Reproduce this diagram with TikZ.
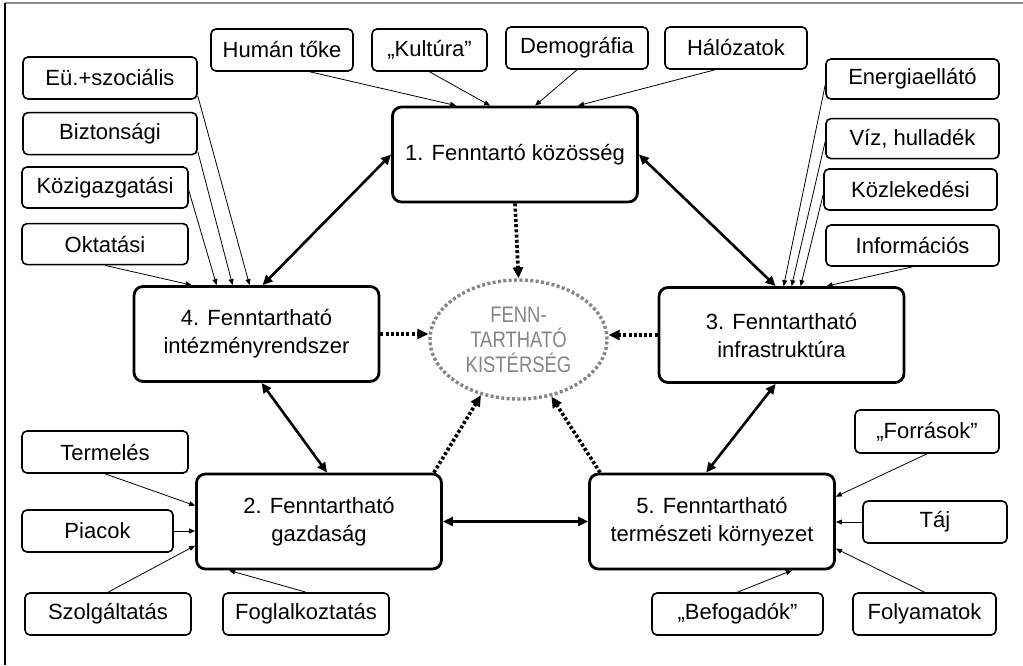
\documentclass[tikz,border=0pt]{standalone}
\usepackage{fontspec}
\setmainfont{Liberation Sans}
\newfontfamily\narrowfont[FakeStretch=0.82]{Liberation Sans}
\usepackage{xcolor}
\usetikzlibrary{arrows.meta,positioning,shapes.geometric}
\definecolor{frameline}{HTML}{8C8C8C}
\definecolor{goalgray}{HTML}{858585}
\tikzset{
  sbox/.style={draw,line width=1.6pt,rounded corners=5pt,align=center,
               font=\fontsize{22}{26}\selectfont,inner sep=0pt,minimum height=42pt},
  mbox/.style={draw,line width=2.8pt,rounded corners=9pt,align=center,
               font=\fontsize{22}{28}\selectfont,inner sep=0pt,minimum width=245pt,minimum height=95pt},
  goal/.style={ellipse,draw=goalgray,line width=3.4pt,dash pattern=on 3pt off 2.4pt,
               text=goalgray,align=center,font=\narrowfont\fontsize{22.5}{25}\selectfont,
               inner sep=0pt,minimum width=177pt,minimum height=119pt},
  arr/.style={-{Triangle[length=6pt,width=5pt]},line width=0.8pt},
  darr/.style={{Triangle[length=10pt,width=9pt]}-{Triangle[length=10pt,width=9pt]},line width=2.6pt},
  dotarr/.style={-{Triangle[length=11pt,width=10pt]},line width=3.6pt,dash pattern=on 3pt off 2.2pt},
}
\begin{document}
\begin{tikzpicture}[x=1pt,y=-1pt,node distance=12pt]
\useasboundingbox (0,0) rectangle (1023,665);
% frame of the scan
\draw[frameline,line width=1.2pt] (5,3) -- (1023,3);
\draw[line width=1.2pt] (5,3) -- (5,665);

% main blocks
\node[mbox] (k1) at (515,154.5) {\raisebox{3pt}{1. Fenntartó közösség}};
\node[mbox] (k4) at (256.5,334) {4. Fenntartható\\intézményrendszer};
\node[mbox] (k3) at (781.5,335) {3. Fenntartható\\infrastruktúra};
\node[mbox] (k2) at (319,521.5) {2. Fenntartható\\gazdaság};
\node[mbox] (k5) at (712,521.5) {5. Fenntartható\\természeti környezet};
\node[goal] (kist) at (518.5,339.5) {FENN-\\TARTHATÓ\\KISTÉRSÉG};

% factors of the community
\node[sbox,minimum width=142pt] (human) at (282,50) {Humán tőke};
\node[sbox,minimum width=115pt] (kultura) at (429.5,50) {„Kultúra”};
\node[sbox,minimum width=142pt] (demog) at (577,48) {Demográfia};
\node[sbox,minimum width=142pt] (halo) at (736,48) {Hálózatok};

% institutions
\node[sbox,minimum width=174pt] (eu) at (110,78) {Eü.+szociális};
\node[sbox,minimum width=174pt,below=of eu] (bizt) {Biztonsági};
\node[sbox,minimum width=166pt,minimum height=41pt] (kozig) at (105,187.5) {Közigazgatási};
\node[sbox,minimum width=166pt,minimum height=41pt,below=14pt of kozig] (okt) {Oktatási};

% infrastructure
\node[sbox,minimum width=173pt,minimum height=40pt] (energ) at (912.5,79) {Energiaellátó};
\node[sbox,minimum width=173pt,minimum height=40pt,below=18pt of energ] (viz) {Víz, hulladék};
\node[sbox,minimum width=173pt,minimum height=41pt] (kozl) at (910.5,189.5) {Közlekedési};
\node[sbox,minimum width=173pt,minimum height=41pt] (info) at (912.5,245.5) {Információs};

% economy
\node[sbox,minimum width=166pt] (termeles) at (105,452) {Termelés};
\node[sbox,minimum width=151pt] (piacok) at (97.5,531) {Piacok};
\node[sbox,minimum width=166pt] (szolg) at (108,614) {Szolgáltatás};
\node[sbox,minimum width=166pt] (fogl) at (306,614) {Foglalkoztatás};

% natural environment
\node[sbox,minimum width=144pt,minimum height=43pt] (forr) at (927,431.5) {„Források”};
\node[sbox,minimum width=144pt] (taj) at (935,522) {Táj};
\node[sbox,minimum width=171pt] (befog) at (737.5,614) {„Befogadók”};
\node[sbox,minimum width=143pt] (folyam) at (924.5,614) {Folyamatok};

% thin inputs
\draw[arr] ([xshift=28pt]human.south) -- ([xshift=65pt]k1.north west);
\draw[arr] (kultura.south) -- ([xshift=99pt]k1.north west);
\draw[arr] (demog.south) -- ([xshift=144pt]k1.north west);
\draw[arr] ([xshift=-21pt]halo.south) -- ([xshift=187pt]k1.north west);

\draw[arr] ([yshift=-18pt]eu.east) -- ([xshift=117pt]k4.north west);
\draw[arr] ([yshift=-18pt]bizt.east) -- ([xshift=100pt]k4.north west);
\draw[arr] ([yshift=-3pt]kozig.east) -- ([xshift=84pt]k4.north west);
\draw[arr] (okt.south) -- ([xshift=59pt]k4.north west);

\draw[arr] ([yshift=-6pt]energ.west) -- ([xshift=126pt]k3.north west);
\draw[arr] ([yshift=-3pt]viz.west) -- ([xshift=134pt]k3.north west);
\draw[arr] ([yshift=-5pt]kozl.west) -- ([xshift=143pt]k3.north west);
\draw[arr] (info.south) -- ([xshift=169pt]k3.north west);

\draw[arr] (termeles.south) -- ([yshift=-33pt]k2.north west);
\draw[arr] (piacok.east) -- (piacok.east -| k2.west);
\draw[arr] (szolg.north) -- ([yshift=-73pt]k2.north west);
\draw[arr] (fogl.north) -- ([xshift=34pt]k2.south west);

\draw[arr] (forr.south) -- ([yshift=-24pt]k5.north east);
\draw[arr] (taj.west) -- (taj.west -| k5.east);
\draw[arr] (folyam.north) -- ([yshift=-76pt]k5.north east);
\draw[arr] (befog.north) -- ([xshift=-44pt]k5.south east);

% links between the blocks
\draw[darr] (k1.west) -- ([xshift=130pt]k4.north west);
\draw[darr] (k1.east) -- ([xshift=118pt]k3.north west);
\draw[darr] ([xshift=129pt]k4.south west) -- ([xshift=132pt]k2.north west);
\draw[darr] ([xshift=118pt]k3.south west) -- ([xshift=118pt]k5.north west);
\draw[darr] (k2.east) -- (k5.west);

% towards the goal
\draw[dotarr] (k1.south) -- (kist.north);
\draw[dotarr] (k4.east) -- (kist.west |- k4.east);
\draw[dotarr] (k3.west) -- (kist.east |- k3.west);
\draw[dotarr] ([xshift=-9pt]k2.north east) -- (kist.236);
\draw[dotarr] ([xshift=12pt]k5.north west) -- (kist.300);
\end{tikzpicture}
\end{document}
